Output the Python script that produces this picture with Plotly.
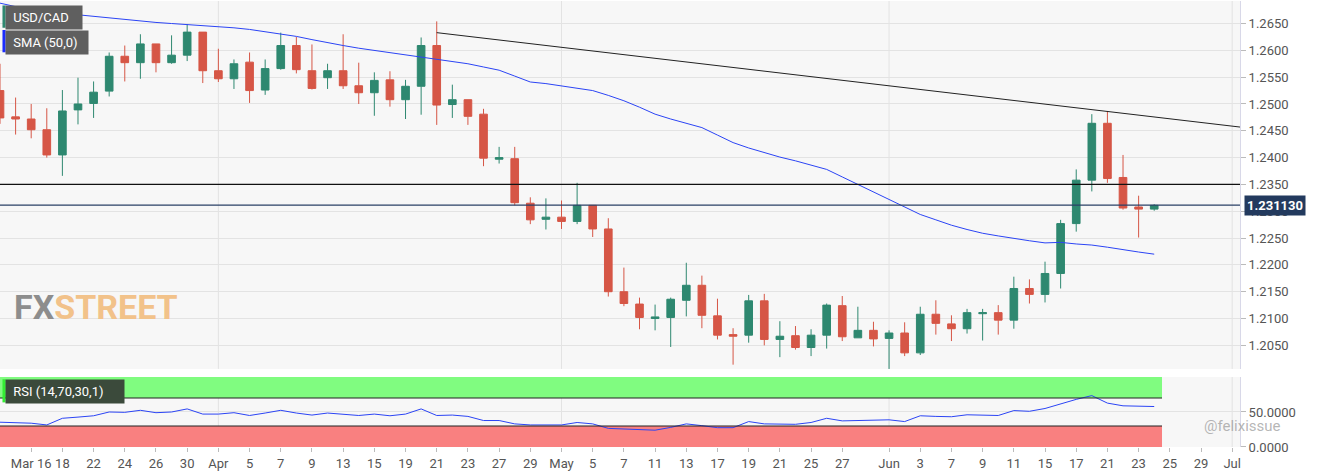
import pandas as pd
import plotly.graph_objects as go
from plotly.subplots import make_subplots

# daily USD/CAD candles, one per weekday from 2021-03-12
start_day = "2021-03-12"
opens = [1.2525, 1.2476, 1.2472, 1.2452, 1.2405, 1.2489, 1.2501, 1.2524, 1.2589, 1.2577,
         1.2612, 1.2577, 1.2591, 1.2634, 1.2562, 1.2547, 1.2578, 1.2526, 1.2566, 1.2609,
         1.2562, 1.2549, 1.2562, 1.2534, 1.2521, 1.2545, 1.2508, 1.2533, 1.2609, 1.2499,
         1.2508, 1.2481, 1.2397, 1.2398, 1.2315, 1.2285, 1.2289, 1.2281, 1.2311, 1.2267,
         1.2150, 1.2127, 1.2100, 1.2102, 1.2134, 1.2162, 1.2105, 1.2070, 1.2069, 1.2133,
         1.2061, 1.2068, 1.2046, 1.2069, 1.2124, 1.2064, 1.2078, 1.2063, 1.2073, 1.2036,
         1.2108, 1.2090, 1.2081, 1.2109, 1.2111, 1.2097, 1.2156, 1.2145, 1.2184, 1.2277,
         1.2358, 1.2464, 1.2363, 1.2308, 1.2304]
highs = [1.2575, 1.2512, 1.2500, 1.2492, 1.2526, 1.2549, 1.2542, 1.2596, 1.2609, 1.2630,
         1.2612, 1.2628, 1.2649, 1.2634, 1.2603, 1.2583, 1.2596, 1.2583, 1.2633, 1.2625,
         1.2611, 1.2575, 1.2630, 1.2577, 1.2559, 1.2561, 1.2545, 1.2624, 1.2654, 1.2536,
         1.2508, 1.2491, 1.2420, 1.2420, 1.2326, 1.2324, 1.2320, 1.2353, 1.2311, 1.2287,
         1.2195, 1.2139, 1.2126, 1.2139, 1.2204, 1.2180, 1.2137, 1.2082, 1.2144, 1.2146,
         1.2095, 1.2086, 1.2080, 1.2128, 1.2142, 1.2122, 1.2094, 1.2078, 1.2093, 1.2122,
         1.2134, 1.2106, 1.2118, 1.2118, 1.2125, 1.2178, 1.2173, 1.2206, 1.2284, 1.2378,
         1.2481, 1.2487, 1.2405, 1.2329, 1.2313]
lows = [1.2463, 1.2443, 1.2436, 1.2400, 1.2366, 1.2462, 1.2474, 1.2514, 1.2542, 1.2547,
        1.2559, 1.2575, 1.2580, 1.2539, 1.2541, 1.2528, 1.2502, 1.2517, 1.2564, 1.2557,
        1.2527, 1.2528, 1.2528, 1.2500, 1.2478, 1.2495, 1.2472, 1.2480, 1.2461, 1.2474,
        1.2461, 1.2384, 1.2389, 1.2311, 1.2276, 1.2266, 1.2267, 1.2276, 1.2252, 1.2141,
        1.2123, 1.2080, 1.2078, 1.2047, 1.2104, 1.2082, 1.2061, 1.2014, 1.2055, 1.2050,
        1.2028, 1.2042, 1.2030, 1.2044, 1.2058, 1.2064, 1.2048, 1.2006, 1.2030, 1.2032,
        1.2070, 1.2058, 1.2072, 1.2059, 1.2070, 1.2081, 1.2128, 1.2130, 1.2156, 1.2262,
        1.2337, 1.2353, 1.2303, 1.2251, 1.2301]
closes = [1.2474, 1.2472, 1.2452, 1.2405, 1.2487, 1.2500, 1.2522, 1.2589, 1.2577, 1.2612,
          1.2577, 1.2591, 1.2634, 1.2562, 1.2547, 1.2575, 1.2525, 1.2566, 1.2609, 1.2564,
          1.2529, 1.2562, 1.2534, 1.2521, 1.2544, 1.2508, 1.2533, 1.2609, 1.2498, 1.2508,
          1.2477, 1.2399, 1.2400, 1.2316, 1.2284, 1.2289, 1.2281, 1.2311, 1.2267, 1.2150,
          1.2128, 1.2102, 1.2103, 1.2136, 1.2162, 1.2106, 1.2069, 1.2067, 1.2133, 1.2061,
          1.2067, 1.2046, 1.2069, 1.2125, 1.2066, 1.2078, 1.2062, 1.2073, 1.2036, 1.2108,
          1.2091, 1.2081, 1.2111, 1.2111, 1.2097, 1.2156, 1.2145, 1.2184, 1.2277, 1.2358,
          1.2464, 1.2361, 1.2306, 1.2304, 1.2311]
sma50 = [1.2688, 1.2681, 1.2675, 1.2672, 1.2669, 1.2666, 1.2663, 1.2660, 1.2657, 1.2655,
         1.2652, 1.2650, 1.2648, 1.2646, 1.2645, 1.2642, 1.2639, 1.2635, 1.2631, 1.2626,
         1.2620, 1.2614, 1.2609, 1.2604, 1.2600, 1.2595, 1.2591, 1.2587, 1.2583, 1.2579,
         1.2575, 1.2569, 1.2563, 1.2552, 1.2541, 1.2538, 1.2534, 1.2530, 1.2525, 1.2516,
         1.2506, 1.2494, 1.2481, 1.2472, 1.2464, 1.2456, 1.2442, 1.2428, 1.2418, 1.2409,
         1.2401, 1.2394, 1.2386, 1.2378, 1.2364, 1.2350, 1.2336, 1.2322, 1.2308, 1.2294,
         1.2284, 1.2274, 1.2266, 1.2259, 1.2254, 1.2249, 1.2245, 1.2241, 1.2242, 1.2239,
         1.2237, 1.2233, 1.2228, 1.2224, 1.2220]
rsi = [35.4, 35.0, 34.0, 31.5, 41.0, 42.7, 44.6, 50.0, 49.5, 52.4,
       49.0, 50.0, 54.4, 47.0, 47.0, 49.0, 45.0, 48.5, 52.4, 48.5,
       45.6, 48.5, 46.6, 45.0, 47.0, 44.6, 47.0, 54.4, 45.0, 45.6,
       43.7, 37.8, 37.8, 33.0, 31.5, 31.5, 31.5, 35.0, 33.0, 26.6,
       25.6, 24.6, 24.0, 28.0, 33.0, 30.5, 27.6, 27.6, 36.3, 33.0,
       32.4, 32.4, 35.0, 41.0, 37.3, 37.8, 38.3, 38.8, 36.3, 44.6,
       43.7, 43.2, 46.0, 46.0, 45.0, 52.0, 51.0, 55.0, 62.0, 68.0,
       73.4, 62.7, 58.8, 57.8, 57.8]

tick_dates = ["2021-03-16", "2021-03-18", "2021-03-22", "2021-03-24", "2021-03-26", "2021-03-30",
              "2021-04-01", "2021-04-05", "2021-04-07", "2021-04-09", "2021-04-13", "2021-04-15",
              "2021-04-19", "2021-04-21", "2021-04-23", "2021-04-27", "2021-04-29", "2021-05-03",
              "2021-05-05", "2021-05-07", "2021-05-11", "2021-05-13", "2021-05-17", "2021-05-19",
              "2021-05-21", "2021-05-25", "2021-05-27", "2021-06-01", "2021-06-03", "2021-06-07",
              "2021-06-09", "2021-06-11", "2021-06-15", "2021-06-17", "2021-06-21", "2021-06-23",
              "2021-06-25", "2021-06-29", "2021-07-01"]
tick_text = ["Mar 16", "18", "22", "24", "26", "30", "Apr", "5", "7", "9", "13", "15", "19", "21",
             "23", "27", "29", "May", "5", "7", "11", "13", "17", "19", "21", "25", "27", "Jun",
             "3", "7", "9", "11", "15", "17", "21", "23", "25", "29", "Jul"]
month_starts = ["2021-04-01", "2021-05-03", "2021-06-01", "2021-07-01"]

trend_start = ("2021-04-21", 1.2633)
trend_end_price = 1.2457  # at the right edge of the chart
resistance = 1.2350
last_price = 1.231130

days = pd.bdate_range(start_day, "2021-07-01")
pos = {d.strftime("%Y-%m-%d"): i for i, d in enumerate(days)}
idx = list(range(len(closes)))

GREEN = "#2e8870"
RED = "#d65646"
FONT = "Liberation Sans Narrow, Roboto, sans-serif"

fig = make_subplots(rows=2, cols=1, shared_xaxes=True)

fig.add_trace(go.Candlestick(
    x=idx, open=opens, high=highs, low=lows, close=closes,
    increasing=dict(line=dict(color=GREEN, width=1), fillcolor=GREEN),
    decreasing=dict(line=dict(color=RED, width=1), fillcolor=RED),
    whiskerwidth=0, showlegend=False, hoverinfo="skip"), row=1, col=1)
fig.add_trace(go.Scatter(x=idx, y=sma50, mode="lines", line=dict(color="#2b44f5", width=1),
                         showlegend=False), row=1, col=1)

x_end = len(days) - 0.5
fig.add_trace(go.Scatter(x=[pos[trend_start[0]], x_end], y=[trend_start[1], trend_end_price],
                         mode="lines", line=dict(color="#222", width=1), showlegend=False), row=1, col=1)
fig.add_hline(y=resistance, line=dict(color="#111", width=1.2), row=1, col=1)
fig.add_hline(y=last_price, line=dict(color="#2a4066", width=1.2), row=1, col=1)

# RSI pane
rsi_end = len(closes) - 0.5
fig.add_shape(type="rect", x0=-1, x1=rsi_end, y0=70, y1=100, xref="x2", yref="y2",
              fillcolor="#80fc80", line=dict(width=0), layer="below")
fig.add_shape(type="rect", x0=-1, x1=rsi_end, y0=0, y1=30, xref="x2", yref="y2",
              fillcolor="#f98080", line=dict(width=0), layer="below")
for lvl in (70, 30):
    fig.add_shape(type="line", x0=-1, x1=rsi_end, y0=lvl, y1=lvl, xref="x2", yref="y2",
                  line=dict(color="#222", width=1.2))
fig.add_trace(go.Scatter(x=idx, y=rsi, mode="lines", line=dict(color="#2b44f5", width=1),
                         showlegend=False), row=2, col=1)

for m in month_starts:
    for xr, yr in (("x", "y domain"), ("x2", "y2 domain")):
        fig.add_shape(type="line", x0=pos[m], x1=pos[m], y0=0, y1=1, xref=xr, yref=yr,
                      line=dict(color="#e3e3e3", width=1), layer="below")

axis_font = dict(family=FONT, size=13, color="#555")
fig.update_xaxes(range=[0, x_end], showgrid=False, zeroline=False,
                 tickvals=[pos[d] for d in tick_dates], ticktext=tick_text,
                 rangeslider_visible=False, tickfont=axis_font)
fig.update_xaxes(showticklabels=False, row=1, col=1)
fig.update_xaxes(ticks="outside", ticklen=4, tickcolor="#bbb", row=2, col=1)
fig.update_yaxes(side="right", range=[1.2006, 1.2692], dtick=0.005, tick0=1.2050,
                 tickformat=".4f", gridcolor="#e3e3e3", zeroline=False, ticks="outside",
                 ticklen=5, tickcolor="#bbb", showline=True, linecolor="#d8d8e8",
                 tickfont=axis_font, domain=[0.175, 1.0], row=1, col=1)
fig.update_yaxes(side="right", range=[0, 100], tickvals=[0, 50], ticktext=["0.0000", "50.0000"],
                 gridcolor="#e3e3e3", zeroline=False, ticks="outside", ticklen=5, tickcolor="#bbb",
                 showline=True, linecolor="#d8d8e8", tickfont=axis_font, domain=[0.0, 0.157],
                 row=2, col=1)

box = dict(font=dict(family=FONT, size=13, color="white"), bgcolor="#5f5f5f",
           xref="paper", yref="paper", xanchor="left", yanchor="top", showarrow=False,
           borderpad=4)
fig.add_annotation(text=" USD/CAD   ", x=0.004, y=0.99, **box)
fig.add_annotation(text=" SMA (50,0)  ", x=0.004, y=0.935, **box)
fig.add_shape(type="rect", xref="paper", yref="paper", x0=0.002, x1=0.0045, y0=0.94, y1=0.99,
              fillcolor=GREEN, line_width=0)
fig.add_shape(type="rect", xref="paper", yref="paper", x0=0.002, x1=0.0045, y0=0.885, y1=0.935,
              fillcolor="#1b2cff", line_width=0)
fig.add_annotation(text=" RSI (14,70,30,1)     ", x=0.004, y=0.152,
                   **{**box, "bgcolor": "#3b4a3b"})
fig.add_shape(type="rect", xref="paper", yref="paper", x0=0.002, x1=0.0045, y0=0.10, y1=0.152,
              fillcolor="#33ee33", line_width=0)

fig.add_annotation(text="<b>1.231130</b>", x=1.003, xref="paper", y=last_price, yref="y",
                   xanchor="left", showarrow=False, bgcolor="#233a5e", borderpad=2,
                   font=dict(family=FONT, size=13, color="white"))
fig.add_annotation(text="<b><span style='color:#8d8d8d'>FX</span>"
                        "<span style='color:#f2c28a'>STREET</span></b>",
                   x=0.01, y=0.265, xref="paper", yref="paper", xanchor="left", showarrow=False,
                   font=dict(family=FONT, size=34))
fig.add_annotation(text="@felixissue", x=1.035, y=0.022, xref="paper", yref="paper",
                   showarrow=False, font=dict(family="Roboto", size=15, color="rgba(150,150,150,0.7)"))

fig.update_layout(width=1323, height=471, margin=dict(l=0, r=83, t=1, b=24),
                  paper_bgcolor="white", plot_bgcolor="#f7f7f7", showlegend=False)
fig.write_html("out.html", config={"displayModeBar": False},
               post_script="document.body.style.margin='0';")
